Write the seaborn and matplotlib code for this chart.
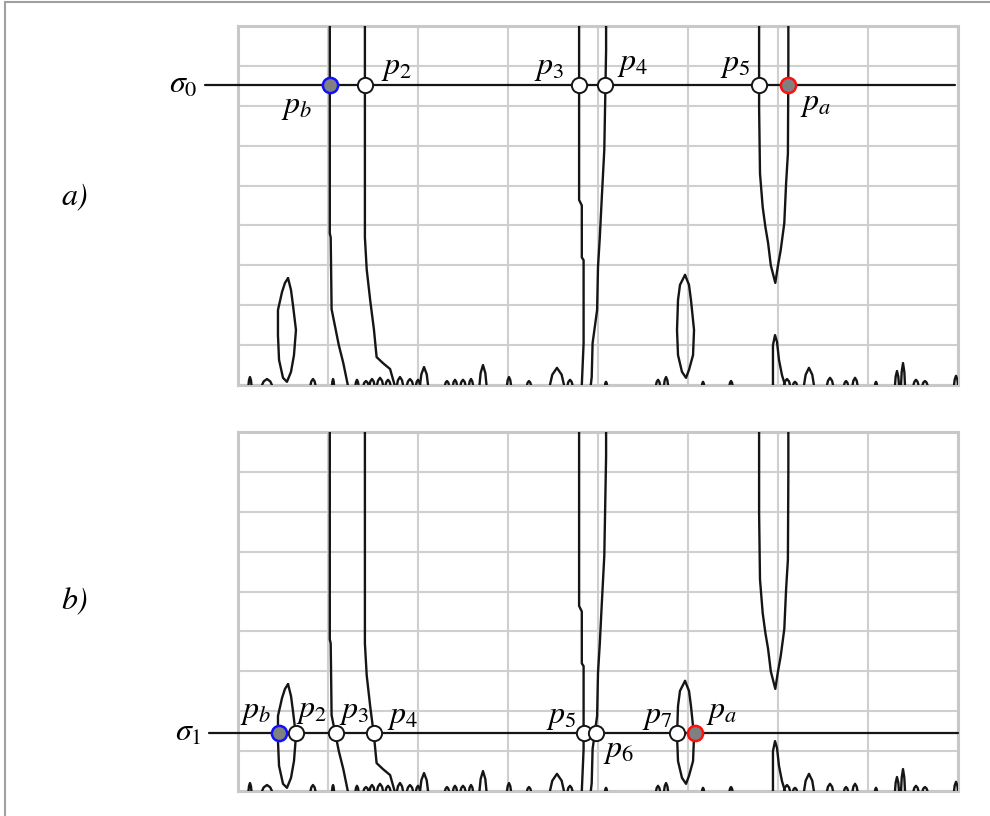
import numpy as np
import pandas as pd
import matplotlib
matplotlib.use("Agg")
import matplotlib.pyplot as plt
import seaborn as sns
from matplotlib.lines import Line2D

# ---------------- data (x: position 0..800, y: scale 0..90) ----------------
curve_a_x = [102, 102, 103, 104, 112, 117, 122]
curve_a_y = [91, 38, 37, 19, 10, 5.5, 0]
curve_b_x = [141, 141, 143, 147, 151, 154, 161, 169, 174]
curve_b_y = [91, 37, 29, 21, 14, 7, 5.5, 4, 0]
curve_c_x = [379, 379, 382, 382, 384, 384, 382]
curve_c_y = [91, 46.4, 45, 32, 31.3, 10.5, 0]
curve_d_x = [409, 409, 407, 404, 402, 400, 399, 394, 393, 392]
curve_d_y = [91, 84, 59, 46, 37, 29.6, 18.8, 10.5, 2, 0]
curve_v_x = [579, 579, 580, 583, 586, 589, 592, 597, 600, 603, 607, 609, 611, 611.5, 611.5]
curve_v_y = [91, 69.7, 53, 44.6, 39.6, 35.6, 30, 25.6, 30, 33.8, 40.6, 50.6, 58, 80, 91]
loop_left_x = [55.6, 58.9, 61.1, 64.4, 62.2, 58.9, 54.4, 50, 45.6, 44.4, 44.4, 48.9, 52.2, 55.6]
loop_left_y = [26.8, 23.8, 20, 13.8, 7.5, 3.3, 0.8, 1.8, 6.3, 12.5, 18.8, 23.3, 25.6, 26.8]
loop_right_x = [496.7, 501.1, 503.3, 506.7, 505.6, 501.1, 497.8, 493.3, 488.9, 487.8, 488.9, 491.1, 496.7]
loop_right_y = [27.6, 25.1, 21.3, 13.8, 7.5, 3.8, 1.8, 3.3, 7.5, 13.8, 21.3, 25.1, 27.6]
spike_x = [594.4, 594.4, 596.7, 598.9, 601.1, 604.4, 607.8]
spike_y = [0, 10, 12.5, 10.8, 6.3, 2.5, 0]

noise_x = [13.3, 32.2, 83.3, 105.6, 132.2, 142.2, 148.9, 157.8, 166.7, 180, 191.1, 200,
           206.7, 232.2, 241.1, 250, 258.9, 272.2, 301.1, 323.3, 354.4, 368.9, 408.9,
           466.7, 475.6, 516.7, 547.8, 610, 618.9, 634.4, 657.8, 675.6, 685.6, 708.9,
           732.2, 738.9, 753.3, 763.3, 797.8]
noise_w = [3.3, 11, 5.5, 2.2, 3.3, 5.5, 5.5, 6.7, 5.5, 6.7, 6.7, 4.4,
           8.9, 4.4, 4.4, 5.5, 4.4, 7.8, 4.4, 4.4, 15.6, 5.5, 2.2,
           4.4, 4.4, 2.2, 3.3, 6.7, 4.4, 11, 6.7, 4.4, 5.5, 2.2,
           4.4, 4.4, 5.5, 5.5, 4.4]
noise_h = [2.0, 1.5, 1.5, 1.5, 1.3, 1.0, 1.5, 1.8, 1.3, 2.0, 1.5, 1.3,
           4.5, 1.0, 1.3, 1.3, 1.5, 5.0, 2.0, 1.0, 4.3, 1.3, 0.8,
           1.3, 2.0, 0.8, 1.0, 1.5, 0.8, 4.3, 1.8, 1.0, 1.8, 0.8,
           3.5, 5.5, 1.3, 1.0, 2.3]

sigma0 = 75.2
sigma1 = 14.5

pts_a_x = [102.2, 141.1, 378.9, 407.8, 579.2, 611.0]
pts_a_lab = ["b", "2", "3", "4", "5", "a"]
pts_a_kind = ["b", "w", "w", "w", "w", "a"]
pts_b_x = [45.6, 64.4, 108.9, 151.1, 384.4, 397.8, 487.8, 507.8]
pts_b_lab = ["b", "2", "3", "4", "5", "6", "7", "a"]
pts_b_kind = ["b", "w", "w", "w", "w", "w", "w", "a"]

# label offsets (pixels) - styling
off_a = [(-33, -22), (32, 17), (-30, 17), (28, 21), (-24, 20), (28, -19)]
off_b = [(-23, 21), (16, 22), (18, 21), (29, 16), (-23, 16), (22, -18), (-20, 16), (27, 21)]

# ---------------- style ----------------
sns.set_style("whitegrid", {"grid.color": "#cfcfcf", "axes.edgecolor": "#c8c8c8"})
plt.rcParams["mathtext.fontset"] = "custom"
plt.rcParams["mathtext.it"] = "STIXGeneral:italic"
plt.rcParams["mathtext.rm"] = "STIXGeneral"
plt.rcParams["mathtext.bf"] = "STIXGeneral:bold"
plt.rcParams["font.family"] = ["STIXGeneral", "Liberation Serif", "DejaVu Serif"]
plt.rcParams["text.color"] = "black"

FS = 23
fig = plt.figure(figsize=(9.9, 8.16), dpi=100)
W, H = 990.0, 816.0
ax_a = fig.add_axes([238 / W, (H - 385) / H, 720 / W, 359 / H])
ax_b = fig.add_axes([238 / W, (H - 791) / H, 720 / W, 359 / H])

# build curve table
rows = []
def add(cid, xs, ys):
    for x, y in zip(xs, ys):
        rows.append((cid, x, y))

add("A", curve_a_x, curve_a_y)
add("B", curve_b_x, curve_b_y)
add("C", curve_c_x, curve_c_y)
add("D", curve_d_x, curve_d_y)
add("V", curve_v_x, curve_v_y)
add("L", loop_left_x, loop_left_y)
add("R", loop_right_x, loop_right_y)
add("S", spike_x, spike_y)
for i, (nx, nw, nh) in enumerate(zip(noise_x, noise_w, noise_h)):
    add(f"n{i}", [nx - nw / 2, nx - nw / 3, nx, nx + nw / 3, nx + nw / 2],
        [0, nh * 0.6, nh, nh * 0.6, 0])
curves = pd.DataFrame(rows, columns=["cid", "x", "y"])

LINE = "#151515"

def draw_panel(ax, sigma, px, labs, kinds, offs, sig_x0, sig_x1, sig_name):
    sns.lineplot(data=curves, x="x", y="y", units="cid", estimator=None, sort=False,
                 color=LINE, linewidth=1.7, ax=ax, legend=False, zorder=3)
    ax.set_xlim(0, 800)
    ax.set_ylim(0, 90)
    ax.set_xticks(np.arange(0, 801, 100))
    ax.set_yticks(np.arange(0, 91, 10))
    ax.set_xticklabels([])
    ax.set_yticklabels([])
    ax.tick_params(length=0)
    ax.grid(True, color="#cfcfcf", linewidth=1.5)
    for s in ax.spines.values():
        s.set_color("#c8c8c8")
        s.set_linewidth(2.2)
    ax.plot([sig_x0, sig_x1], [sigma, sigma], color=LINE, lw=1.6, clip_on=False, zorder=4)
    ax.text(sig_x0 - 8, sigma - 2.0, sig_name, ha="right", va="baseline", fontsize=FS,
            clip_on=False)
    df = pd.DataFrame({"x": px, "y": [sigma] * len(px), "k": kinds})
    sns.scatterplot(data=df[df.k == "w"], x="x", y="y", s=120, color="white", edgecolor=LINE,
                    linewidth=1.4, ax=ax, zorder=5, clip_on=False, legend=False)
    sns.scatterplot(data=df[df.k == "b"], x="x", y="y", s=120, color="#808080",
                    edgecolor="#1010ff", linewidth=1.8, ax=ax, zorder=5, clip_on=False, legend=False)
    sns.scatterplot(data=df[df.k == "a"], x="x", y="y", s=120, color="#808080",
                    edgecolor="#ff1010", linewidth=1.8, ax=ax, zorder=5, clip_on=False, legend=False)
    ax.set_xlabel("")
    ax.set_ylabel("")
    for x, lab, (dx, dy) in zip(px, labs, offs):
        ax.annotate(r"$\mathit{p}_{\mathit{%s}}$" % lab, (x, sigma), xytext=(dx, dy),
                    textcoords="offset pixels", ha="center", va="center", fontsize=FS,
                    zorder=6, annotation_clip=False)

draw_panel(ax_a, sigma0, pts_a_x, pts_a_lab, pts_a_kind, off_a, -36.7, 796.7,
           r"$\mathit{σ}_{\mathit{0}}$")
draw_panel(ax_b, sigma1, pts_b_x, pts_b_lab, pts_b_kind, off_b, -32.2, 800,
           r"$\mathit{σ}_{\mathit{1}}$")

fig.text(75 / W, 1 - 197 / H, "a)", fontsize=FS, style="italic", family="STIXGeneral",
         ha="center", va="center")
fig.text(75 / W, 1 - 602 / H, "b)", fontsize=FS, style="italic", family="STIXGeneral",
         ha="center", va="center")

# thin page border (top and left)
fig.add_artist(Line2D([5 / W, 1], [1 - 1.5 / H, 1 - 1.5 / H], color="#a0a0a0", lw=1.5,
                      transform=fig.transFigure))
fig.add_artist(Line2D([5 / W, 5 / W], [0, 1 - 1.5 / H], color="#a0a0a0", lw=1.5,
                      transform=fig.transFigure))

fig.savefig("out.png", dpi=100, facecolor="white")
